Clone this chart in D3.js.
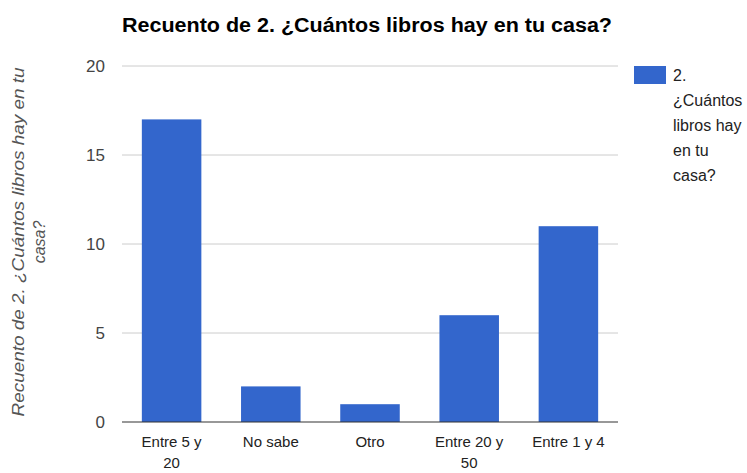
<!DOCTYPE html>
<html>
<head>
<meta charset="utf-8">
<script src="https://cdn.jsdelivr.net/npm/d3@7"></script>
<style>
  body { margin: 0; background: #fff; }
  svg { display: block; font-family: "Liberation Sans", Arial, sans-serif; }
</style>
</head>
<body>
<div id="canvas"></div>
<script>
// data
const categories = ["Entre 5 y 20", "No sabe", "Otro", "Entre 20 y 50", "Entre 1 y 4"];
const counts = [17, 2, 1, 6, 11];
const yTicks = [0, 5, 10, 15, 20];
const chartTitle = "Recuento de 2. ¿Cuántos libros hay en tu casa?";
const yLabelLines = ["Recuento de 2. ¿Cuántos libros hay en tu", "casa?"];
const legendLines = ["2.", "¿Cuántos", "libros hay", "en tu", "casa?"];
// wrapped category labels as they appear under the axis
const catLines = [["Entre 5 y", "20"], ["No sabe"], ["Otro"], ["Entre 20 y", "50"], ["Entre 1 y 4"]];

const W = 747, H = 473;
const m = { left: 122, right: 618, top: 66, bottom: 422 };
const barColor = "#3366cc";

const svg = d3.select("#canvas").append("svg")
  .attr("width", W).attr("height", H);

const x = d3.scaleBand().domain(categories)
  .range([m.left, m.right]).paddingInner(0.4).paddingOuter(0.2);
const y = d3.scaleLinear().domain([0, 20]).range([m.bottom, m.top]);

// gridlines
svg.append("g").selectAll("line")
  .data(yTicks.filter(t => t !== 0))
  .join("line")
  .attr("x1", m.left).attr("x2", m.right)
  .attr("y1", d => y(d)).attr("y2", d => y(d))
  .attr("stroke", "#cccccc").attr("stroke-width", 1);

// y tick labels
svg.append("g").selectAll("text")
  .data(yTicks)
  .join("text")
  .attr("x", 105).attr("y", d => y(d) + 6)
  .attr("text-anchor", "end")
  .attr("font-size", 17).attr("fill", "#444")
  .text(d => d);

// bars
svg.append("g").selectAll("rect")
  .data(counts)
  .join("rect")
  .attr("x", (d, i) => x(categories[i]))
  .attr("width", x.bandwidth())
  .attr("y", d => y(d))
  .attr("height", d => y(0) - y(d))
  .attr("fill", barColor);

// baseline
svg.append("line")
  .attr("x1", m.left).attr("x2", m.right)
  .attr("y1", y(0)).attr("y2", y(0))
  .attr("stroke", "#333").attr("stroke-width", 1.2);

// category labels (second line sits right at the bottom edge, as in the reference)
const cat = svg.append("g").selectAll("text")
  .data(categories)
  .join("text")
  .attr("x", d => x(d) + x.bandwidth() / 2)
  .attr("y", 447)
  .attr("text-anchor", "middle")
  .attr("font-size", 15).attr("fill", "#222");
cat.each(function(d, i) {
  d3.select(this).selectAll("tspan")
    .data(catLines[i])
    .join("tspan")
    .attr("x", x(d) + x.bandwidth() / 2)
    .attr("dy", (l, j) => j === 0 ? 0 : 21)
    .text(l => l);
});

// title
svg.append("text")
  .attr("x", 367).attr("y", 32)
  .attr("text-anchor", "middle")
  .attr("font-size", 20).attr("font-weight", "bold").attr("fill", "#000")
  .attr("textLength", 490).attr("lengthAdjust", "spacingAndGlyphs")
  .text(chartTitle);

// y axis title (rotated, two lines)
const yl = svg.append("text")
  .attr("transform", "translate(24,242) rotate(-90)")
  .attr("text-anchor", "middle")
  .attr("font-size", 16).attr("font-style", "italic").attr("fill", "#555");
yl.selectAll("tspan")
  .data(yLabelLines)
  .join("tspan")
  .attr("x", 0)
  .attr("dy", (l, j) => j === 0 ? 0 : 21)
  .attr("textLength", (l, j) => j === 0 ? 349 : null)
  .attr("lengthAdjust", "spacingAndGlyphs")
  .text(l => l);

// legend
svg.append("rect")
  .attr("x", 634).attr("y", 66).attr("width", 32).attr("height", 18)
  .attr("fill", barColor);
const lg = svg.append("text")
  .attr("x", 673).attr("y", 81)
  .attr("font-size", 16).attr("fill", "#222");
lg.selectAll("tspan")
  .data(legendLines)
  .join("tspan")
  .attr("x", 673)
  .attr("dy", (l, j) => j === 0 ? 0 : 25)
  .text(l => l);
</script>
</body>
</html>
